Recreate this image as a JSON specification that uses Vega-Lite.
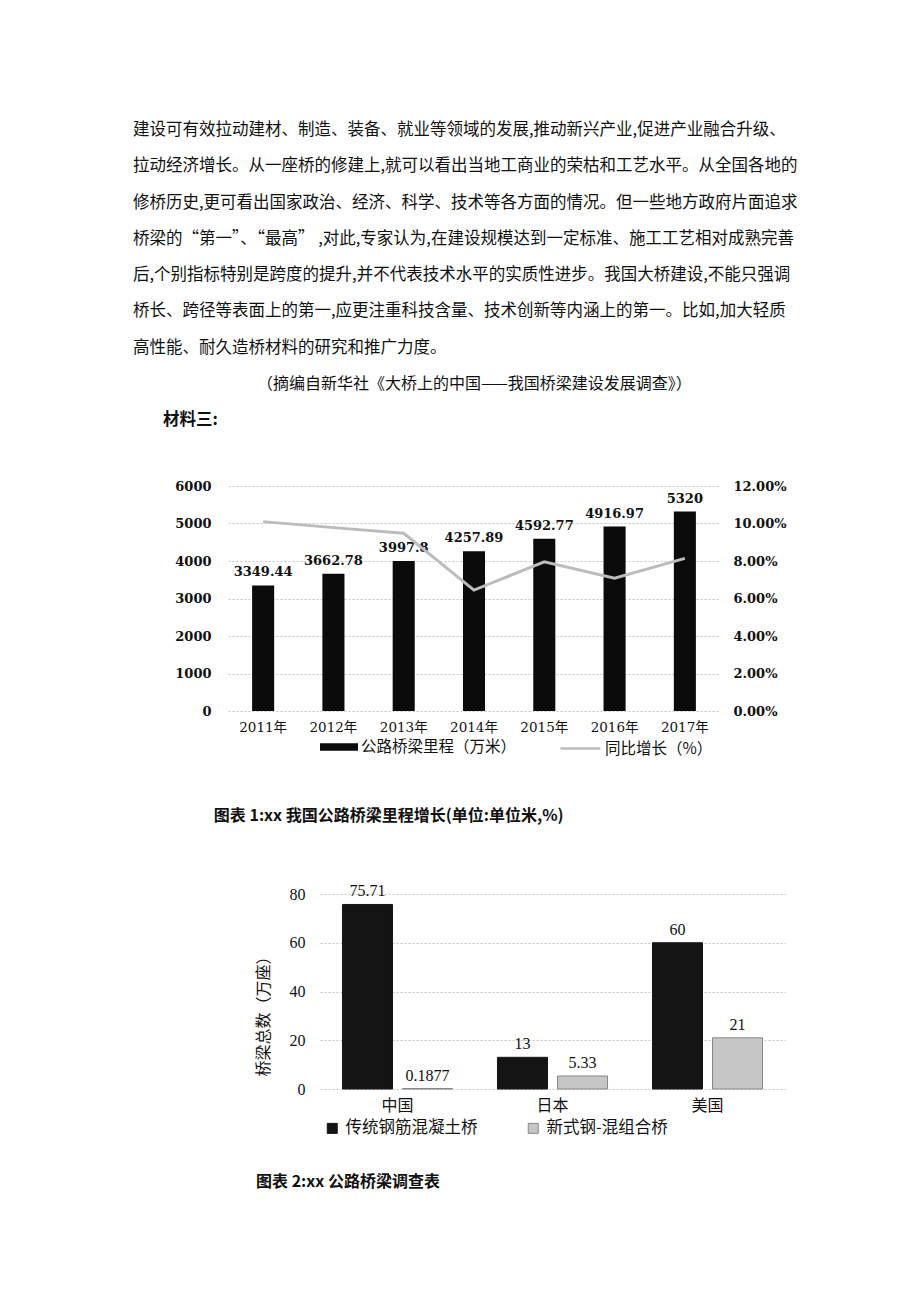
{
  "$schema": "https://vega.github.io/schema/vega-lite/v6.json",
  "background": "white",
  "padding": {"left": 133, "top": 112, "right": 10, "bottom": 10},
  "spacing": 0,
  "config": {"view": {"stroke": null}, "font": "Noto Sans CJK SC"},
  "resolve": {"scale": {"color": "independent", "stroke": "independent", "fill": "independent"}, "legend": {"color": "independent", "stroke": "independent", "fill": "independent"}},
  "vconcat": [
    {
      "width": 660,
      "height": 368,
      "layer": [
        {
          "data": {"values": [
            {"line": 1, "text": "建设可有效拉动建材、制造、装备、就业等领域的发展,推动新兴产业,促进产业融合升级、"},
            {"line": 2, "text": "拉动经济增长。从一座桥的修建上,就可以看出当地工商业的荣枯和工艺水平。从全国各地的"},
            {"line": 3, "text": "修桥历史,更可看出国家政治、经济、科学、技术等各方面的情况。但一些地方政府片面追求"},
            {"line": 4, "text": "桥梁的“第一”、“最高” ,对此,专家认为,在建设规模达到一定标准、施工工艺相对成熟完善"},
            {"line": 5, "text": "后,个别指标特别是跨度的提升,并不代表技术水平的实质性进步。我国大桥建设,不能只强调"},
            {"line": 6, "text": "桥长、跨径等表面上的第一,应更注重科技含量、技术创新等内涵上的第一。比如,加大轻质"},
            {"line": 7, "text": "高性能、耐久造桥材料的研究和推广力度。"}
          ]},
          "mark": {"type": "text", "align": "left", "baseline": "middle", "font": "Noto Sans CJK SC", "fontSize": 16.5, "color": "#111"},
          "encoding": {
            "x": {"value": 0},
            "y": {"field": "line", "type": "quantitative", "scale": {"domain": [0.5, 10.65], "reverse": true, "nice": false, "zero": false}, "axis": null},
            "text": {"field": "text"}
          }
        },
        {
          "data": {"values": [{"line": 8, "text": "（摘编自新华社《大桥上的中国——我国桥梁建设发展调查》）"}]},
          "mark": {"type": "text", "align": "left", "baseline": "middle", "dx": 124, "font": "Noto Sans CJK SC", "fontSize": 16, "color": "#111"},
          "encoding": {
            "x": {"value": 0},
            "y": {"field": "line", "type": "quantitative", "scale": {"domain": [0.5, 10.65], "reverse": true, "nice": false, "zero": false}, "axis": null},
            "text": {"field": "text"}
          }
        },
        {
          "data": {"values": [{"line": 9, "text": "材料三:"}]},
          "mark": {"type": "text", "align": "left", "baseline": "middle", "dx": 30, "font": "Noto Sans CJK SC", "fontSize": 16.5, "fontWeight": "bold", "color": "#111"},
          "encoding": {
            "x": {"value": 0},
            "y": {"field": "line", "type": "quantitative", "scale": {"domain": [0.5, 10.65], "reverse": true, "nice": false, "zero": false}, "axis": null},
            "text": {"field": "text"}
          }
        }
      ]
    },
    {
      "spacing": 0,
      "resolve": {"scale": {"fill": "independent", "stroke": "independent"}},
      "hconcat": [
        {"width": 41, "height": 397, "data": {"values": []}, "mark": "point"},
        {
          "width": 492,
          "height": 225,
          "data": {"values": [
            {"year": "2011年", "mileage": 3349.44, "growth": 0.101},
            {"year": "2012年", "mileage": 3662.78, "growth": 0.0978},
            {"year": "2013年", "mileage": 3997.8, "growth": 0.0948},
            {"year": "2014年", "mileage": 4257.89, "growth": 0.0645},
            {"year": "2015年", "mileage": 4592.77, "growth": 0.0796},
            {"year": "2016年", "mileage": 4916.97, "growth": 0.0708},
            {"year": "2017年", "mileage": 5320, "growth": 0.0814}
          ]},
          "title": {"text": "图表 1:xx 我国公路桥梁里程增长(单位:单位米,%)", "orient": "bottom", "anchor": "start", "frame": "bounds", "dx": 39, "offset": 51, "font": "Noto Sans CJK SC", "fontSize": 16, "fontWeight": "bold", "color": "#111"},
          "encoding": {
            "x": {"field": "year", "type": "nominal", "sort": null,
                  "scale": {"paddingInner": 0.686, "paddingOuter": 0.343},
                  "axis": {"title": null, "labelAngle": 0, "domain": false, "ticks": false, "labelPadding": 9, "labelFont": "DejaVu Serif, Noto Sans CJK SC", "labelFontSize": 13.5, "labelColor": "#111"}}
          },
          "layer": [
            {
              "encoding": {
                "y": {"field": "mileage", "type": "quantitative", "scale": {"domain": [0, 6000], "nice": false},
                      "axis": {"values": [0, 1000, 2000, 3000, 4000, 5000, 6000], "format": "d", "title": null, "grid": true, "gridDash": [2, 2], "gridColor": "#c6c6c6", "domain": false, "ticks": false, "labelPadding": 17, "labelFont": "DejaVu Serif", "labelFontSize": 13, "labelFontWeight": "bold", "labelColor": "#111"}}
              },
              "layer": [
                {
                  "mark": {"type": "bar"},
                  "encoding": {
                    "fill": {"datum": "公路桥梁里程（万米）",
                             "scale": {"domain": ["公路桥梁里程（万米）"], "range": ["#0b0b0b"]},
                             "legend": {"title": null, "orient": "none", "legendX": 92, "legendY": 242,
                                        "symbolType": "M-1,-0.2H1V0.2H-1Z", "symbolSize": 1444, "symbolStrokeWidth": 0,
                                        "labelFont": "Noto Sans CJK SC", "labelFontSize": 15.5, "labelColor": "#111", "labelOffset": 3, "labelLimit": 400}}
                  }
                },
                {
                  "mark": {"type": "text", "dy": -13, "baseline": "middle", "font": "DejaVu Serif", "fontSize": 13, "fontWeight": "bold", "color": "#111"},
                  "encoding": {"text": {"field": "mileage", "type": "nominal"}}
                }
              ]
            },
            {
              "mark": {"type": "line", "strokeWidth": 3},
              "encoding": {
                "y": {"field": "growth", "type": "quantitative", "scale": {"domain": [0, 0.12], "nice": false},
                      "axis": {"orient": "right", "values": [0, 0.02, 0.04, 0.06, 0.08, 0.1, 0.12], "format": ".2%", "title": null, "grid": false, "domain": false, "ticks": false, "labelPadding": 13, "labelFont": "DejaVu Serif", "labelFontSize": 13, "labelFontWeight": "bold", "labelColor": "#111"}},
                "stroke": {"datum": "同比增长（%）",
                           "scale": {"domain": ["同比增长（%）"], "range": ["#bcbcbc"]},
                           "legend": {"title": null, "orient": "none", "legendX": 331, "legendY": 241,
                                      "symbolType": "stroke", "symbolSize": 1600, "symbolStrokeWidth": 2.5,
                                      "labelFont": "Noto Sans CJK SC", "labelFontSize": 15.5, "labelColor": "#111", "labelOffset": 3, "labelLimit": 400}}
              }
            }
          ],
          "resolve": {"scale": {"y": "independent"}}
        }
      ]
    },
    {
      "spacing": 0,
      "resolve": {"scale": {"color": "independent", "stroke": "independent"}},
      "hconcat": [
        {"width": 122, "height": 1, "data": {"values": []}, "mark": "point"},
        {
          "width": 465,
          "height": 195,
          "data": {"values": [
            {"country": "中国", "type": "传统钢筋混凝土桥", "value": 75.71},
            {"country": "中国", "type": "新式钢-混组合桥", "value": 0.1877},
            {"country": "日本", "type": "传统钢筋混凝土桥", "value": 13},
            {"country": "日本", "type": "新式钢-混组合桥", "value": 5.33},
            {"country": "美国", "type": "传统钢筋混凝土桥", "value": 60},
            {"country": "美国", "type": "新式钢-混组合桥", "value": 21}
          ]},
          "title": {"text": "图表 2:xx 公路桥梁调查表", "orient": "bottom", "anchor": "start", "frame": "bounds", "dx": 1, "offset": 37, "font": "Noto Sans CJK SC", "fontSize": 16, "fontWeight": "bold", "color": "#111"},
          "encoding": {
            "x": {"field": "country", "type": "nominal", "sort": null,
                  "scale": {"paddingInner": 0.29, "paddingOuter": 0.145},
                  "axis": {"title": null, "labelAngle": 0, "domain": false, "ticks": false, "labelPadding": 8, "labelFont": "Noto Sans CJK SC", "labelFontSize": 16, "labelColor": "#111"}},
            "xOffset": {"field": "type", "type": "nominal", "sort": null, "scale": {"paddingInner": 0.1667, "paddingOuter": 0}},
            "y": {"field": "value", "type": "quantitative", "scale": {"domain": [0, 80], "nice": false},
                  "axis": {"values": [0, 20, 40, 60, 80], "title": "桥梁总数（万座）", "titleFont": "Noto Sans CJK SC", "titleFontSize": 16, "titleFontWeight": "normal", "titleColor": "#111", "titlePadding": 18, "titleY": 118,
                           "grid": true, "gridDash": [2, 2], "gridColor": "#c6c6c6", "domain": false, "ticks": false, "labelPadding": 15, "labelFont": "Liberation Serif", "labelFontSize": 16, "labelColor": "#111"}}
          },
          "layer": [
            {
              "mark": {"type": "bar", "strokeWidth": 1},
              "encoding": {
                "color": {"field": "type", "type": "nominal", "sort": null,
                          "scale": {"domain": ["传统钢筋混凝土桥", "新式钢-混组合桥"], "range": ["#141414", "#c6c6c6"]},
                          "legend": {"title": null, "orient": "none", "legendX": 4, "legendY": 226, "direction": "horizontal",
                                     "symbolType": "square", "symbolSize": 100, "symbolStrokeColor": "#666", "symbolStrokeWidth": 1,
                                     "labelFont": "Noto Sans CJK SC", "labelFontSize": 16.5, "labelColor": "#111", "labelOffset": 5, "columnPadding": 47, "labelLimit": 400}},
                "stroke": {"field": "type", "type": "nominal", "sort": null,
                           "scale": {"domain": ["传统钢筋混凝土桥", "新式钢-混组合桥"], "range": ["#141414", "#888888"]}, "legend": null}
              }
            },
            {
              "mark": {"type": "text", "dy": -13, "baseline": "middle", "font": "Liberation Serif", "fontSize": 16, "color": "#111"},
              "encoding": {"text": {"field": "value", "type": "nominal"}}
            }
          ]
        }
      ]
    }
  ]
}
